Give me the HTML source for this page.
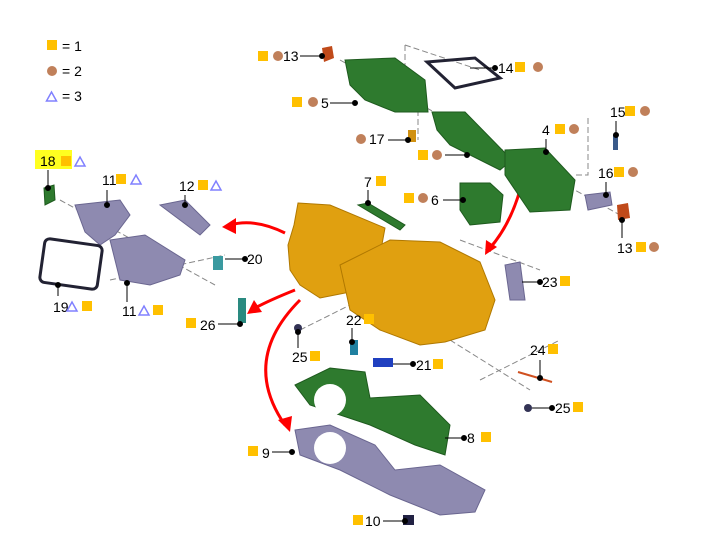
<!DOCTYPE html>
<html><head><meta charset="utf-8"><style>
html,body{margin:0;padding:0;background:#fff;}
svg{display:block;font-family:"Liberation Sans",sans-serif;}
text{font-size:14px;fill:#000;}
</style></head><body>
<svg id="d" width="715" height="555" viewBox="0 0 715 555">
<g>
<rect x="47" y="40" width="10" height="10" fill="#ffc000"/><text x="62" y="51">= 1</text>
<circle cx="52" cy="71" r="5" fill="#c0805a"/><text x="62" y="76">= 2</text>
<path d="M46.5,101 L51.5,92 L56.5,101 Z" fill="none" stroke="#8080ff" stroke-width="1.5"/><text x="62" y="101">= 3</text>
</g>
<g stroke="#888" stroke-width="1" stroke-dasharray="6,3" fill="none">
<path d="M405,45 L480,70"/><path d="M405,45 L405,75"/>
<path d="M340,60 L620,215"/>
<path d="M418,110 L418,140"/>
<path d="M588,118 L588,175 L575,175"/>
<path d="M60,200 L215,285"/><path d="M110,280 L225,255"/>
<path d="M300,330 L420,270"/><path d="M425,250 L425,330 L440,320"/>
<path d="M460,240 L540,270"/><path d="M450,340 L530,390"/><path d="M480,380 L560,340"/>
</g>
<g stroke="#f00" stroke-width="3" fill="none">
<path d="M285,233 Q255,218 230,225"/><path d="M295,290 Q270,300 255,308"/>
<path d="M300,300 Q240,360 285,425"/><path d="M520,190 Q510,225 490,248"/>
</g>
<g fill="#f00">
<path d="M222,227 L236,218 L236,234 Z"/><path d="M247,314 L254,300 L262,312 Z"/>
<path d="M290,432 L278,420 L292,416 Z"/><path d="M485,255 L486,240 L497,247 Z"/>
</g>
<g fill="#e0a010" stroke="#b07800" stroke-width="1">
<path d="M298,203 L330,205 L385,228 L380,255 L360,265 L365,280 L350,292 L320,298 L300,285 L290,270 L288,245 L294,225 Z"/>
<path d="M340,265 L390,240 L440,242 L480,262 L495,300 L485,330 L445,342 L420,345 L380,330 L350,310 Z"/>
</g>
<g fill="#2e7a2e" stroke="#1e5a1e">
<path d="M345,60 L395,58 L425,80 L428,112 L395,112 L365,100 L350,85 Z"/>
<path d="M432,112 L465,112 L512,160 L500,170 L450,145 L437,130 Z"/>
<path d="M505,150 L545,148 L575,180 L570,210 L530,212 L505,175 Z"/>
<path d="M460,183 L490,183 L503,195 L500,222 L470,225 L460,210 Z"/>
<path d="M358,205 L368,203 L405,225 L400,230 Z"/>
<path d="M295,385 L330,368 L365,372 L370,398 L420,395 L450,425 L445,455 L415,445 L370,425 L310,405 Z"/>
<path d="M44,188 L54,185 L55,200 L45,205 Z"/>
</g>
<circle cx="330" cy="400" r="16" fill="#fff"/>
<g fill="#8e8ab0" stroke="#6a6690">
<path d="M295,430 L330,425 L375,445 L395,470 L440,465 L485,490 L475,512 L440,515 L390,495 L340,470 L300,455 Z"/>
<path d="M75,205 L120,200 L130,215 L115,235 L100,245 L85,232 Z"/>
<path d="M110,240 L145,235 L185,260 L180,275 L150,285 L120,280 Z"/>
<path d="M160,205 L185,200 L210,225 L200,235 Z"/>
<path d="M505,265 L520,262 L525,300 L510,300 Z"/>
<path d="M585,195 L610,192 L612,205 L588,210 Z"/>
</g>
<circle cx="330" cy="448" r="16" fill="#fff"/>
<rect x="42" y="242" width="58" height="44" rx="5" fill="none" stroke="#223" stroke-width="3" transform="rotate(8 71 264)"/>
<path d="M427,62 L475,58 L500,78 L455,88 Z" fill="none" stroke="#223" stroke-width="3"/>
<g>
<path d="M322,48 L332,46 L334,58 L324,62 Z" fill="#c04a1a"/>
<path d="M617,205 L628,203 L630,218 L618,220 Z" fill="#c04a1a"/>
<rect x="408" y="130" width="8" height="12" fill="#d09010"/>
<rect x="613" y="135" width="5" height="15" fill="#3a5a8a"/>
<rect x="373" y="358" width="20" height="9" fill="#2040c0"/>
<rect x="350" y="340" width="8" height="15" fill="#2080a0"/>
<rect x="238" y="298" width="8" height="25" fill="#2a8a80"/>
<rect x="213" y="256" width="10" height="14" fill="#3a9aa0"/>
<circle cx="298" cy="328" r="4" fill="#335"/><circle cx="528" cy="408" r="4" fill="#335"/>
<rect x="403" y="515" width="11" height="10" fill="#224"/>
<path d="M518,372 L552,382" stroke="#d05020" stroke-width="2"/>
</g>
<rect x="35" y="150" width="37" height="19" fill="#ffff20"/>
<g id="labels" stroke="#000"></g>
</svg>
<script>
const labels=[
 ["18",40,166,[["s",61,156],["t",80,161]],[[48,170,48,188]]],
 ["11",102,185,[["s",116,174],["t",136,179]],[[107,190,107,205]]],
 ["12",179,191,[["s",198,180],["t",216,185]],[[185,195,185,205]]],
 ["13",283,61,[["s",258,51],["c",278,56]],[[300,56,322,56]]],
 ["14",498,73,[["s",515,62],["c",538,67]],[[470,68,495,68]]],
 ["5",321,108,[["s",292,97],["c",313,102]],[[330,103,355,103]]],
 ["17",369,144,[["c",361,139]],[[388,140,408,140]]],
 ["4",542,135,[["s",555,124],["c",574,129]],[[546,139,546,152]]],
 ["15",610,117,[["s",625,106],["c",645,111]],[[616,121,616,135]]],
 ["",0,0,[["s",418,150],["c",437,155]],[[445,155,467,155]]],
 ["16",598,178,[["s",614,167],["c",633,172]],[[606,182,606,195]]],
 ["7",364,187,[["s",376,176]],[[368,190,368,203]]],
 ["6",431,205,[["s",404,193],["c",423,198]],[[443,200,463,200]]],
 ["13",617,253,[["s",636,242],["c",654,247]],[[622,238,622,220]]],
 ["20",247,264,[],[[225,259,245,259]]],
 ["23",542,287,[["s",560,276]],[[522,282,540,282]]],
 ["19",53,312,[["t",72,306],["s",82,301]],[[58,296,58,285]]],
 ["11",122,316,[["t",144,310],["s",153,305]],[[127,302,127,283]]],
 ["26",200,330,[["s",186,318]],[[218,324,240,324]]],
 ["22",346,325,[["s",364,314]],[[352,328,352,342]]],
 ["25",292,362,[["s",310,351]],[[298,348,298,332]]],
 ["21",416,370,[["s",433,359]],[[393,364,413,364]]],
 ["24",530,355,[["s",548,344]],[[540,360,540,378]]],
 ["25",555,413,[["s",573,402]],[[532,408,552,408]]],
 ["8",467,443,[["s",481,432]],[[445,438,464,438]]],
 ["9",262,458,[["s",248,446]],[[272,452,292,452]]],
 ["10",365,526,[["s",353,515]],[[383,521,405,521]]]
];
const g=document.getElementById('labels');
const NS="http://www.w3.org/2000/svg";
labels.forEach((L,i)=>{
 if(L[0]){const t=document.createElementNS(NS,'text');
 t.setAttribute('x',L[1]);t.setAttribute('y',L[2]);t.setAttribute('stroke','none');t.textContent=L[0];
 
 
 g.appendChild(t);}
 L[3].forEach(m=>{let e;
  if(m[0]=="s"){e=document.createElementNS(NS,'rect');e.setAttribute('x',m[1]);e.setAttribute('y',m[2]);e.setAttribute('width',10);e.setAttribute('height',10);e.setAttribute('fill','#ffc000');e.setAttribute('stroke','none');}
  else if(m[0]=="c"){e=document.createElementNS(NS,'circle');e.setAttribute('cx',m[1]);e.setAttribute('cy',m[2]);e.setAttribute('r',5);e.setAttribute('fill','#c0805a');e.setAttribute('stroke','none');}
  else{e=document.createElementNS(NS,'path');e.setAttribute('d',`M${m[1]-5},${m[2]+5} L${m[1]},${m[2]-4} L${m[1]+5},${m[2]+5} Z`);e.setAttribute('fill','none');e.setAttribute('stroke','#8080ff');e.setAttribute('stroke-width','1.5');}
  
  
  g.appendChild(e);});
 L[4].forEach(l=>{const p=document.createElementNS(NS,'line');
  p.setAttribute('x1',l[0]);p.setAttribute('y1',l[1]);p.setAttribute('x2',l[2]);p.setAttribute('y2',l[3]);p.setAttribute('stroke-width','1');
  
  
  g.appendChild(p);
  const d=document.createElementNS(NS,'circle');d.setAttribute('cx',l[2]);d.setAttribute('cy',l[3]);d.setAttribute('r',2.5);d.setAttribute('fill','#000');
  
  
  g.appendChild(d);});
});
</script>
</body></html>
